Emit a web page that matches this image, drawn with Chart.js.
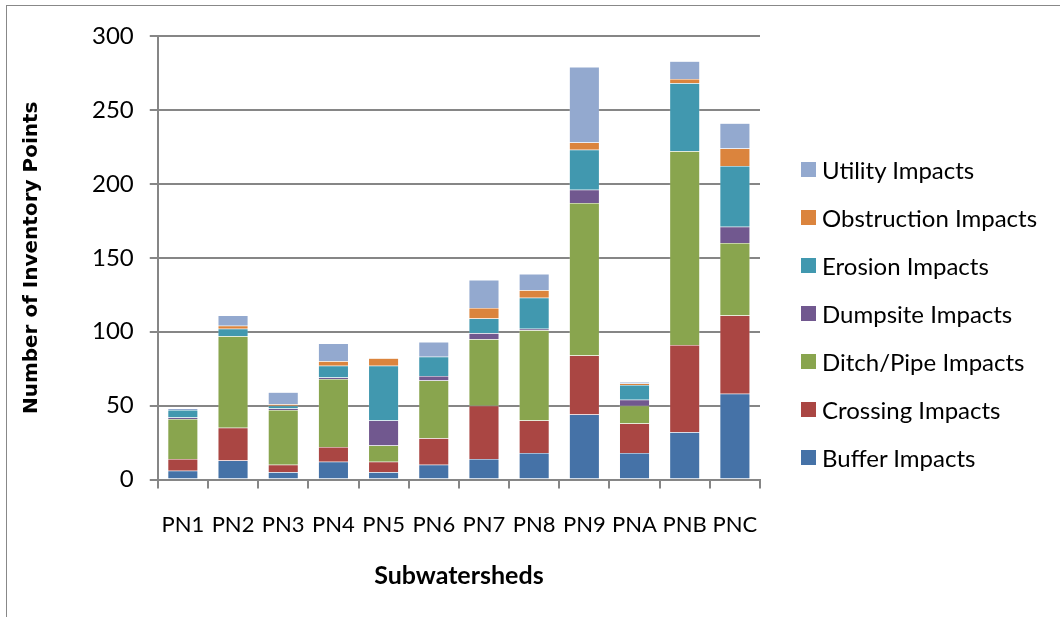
<!DOCTYPE html>
<html>
<head>
<meta charset="utf-8">
<script src="https://cdn.jsdelivr.net/npm/chart.js@4.4.1/dist/chart.umd.min.js"></script>
<style>
  html, body { margin: 0; padding: 0; background: #fff; }
  #frame {
    position: absolute; left: 6px; top: 5px; width: 1100px; height: 700px;
    border: 1px solid #888; box-sizing: border-box;
  }
  #wrap { position: absolute; left: 0; top: 0; width: 1060px; height: 617px; }
  #legend {
    position: absolute; left: 801px; top: 145px;
    font-family: Lato, 'Open Sans', sans-serif; font-size: 24px; color: #000;
  }
  .item { display: flex; align-items: center; height: 48px; white-space: nowrap; }
  .swatch { width: 15px; height: 15px; margin-right: 6px; flex-shrink: 0; }
</style>
</head>
<body>
<div id="frame"></div>
<div id="wrap"><canvas id="chart"></canvas></div>
<div id="legend"></div>
<script>
// Subwatershed inventory counts, stacked by impact type
const SUBWATERSHEDS = ["PN1", "PN2", "PN3", "PN4", "PN5", "PN6", "PN7", "PN8", "PN9", "PNA", "PNB", "PNC"];

const BUFFER      = [6, 13, 5, 12, 5, 10, 14, 18, 44, 18, 32, 58];
const CROSSING    = [8, 22, 5, 10, 7, 18, 36, 22, 40, 20, 59, 53];
const DITCH_PIPE  = [27, 62, 37, 46, 11, 39, 45, 61, 103, 12, 131, 49];
const DUMPSITE    = [1, 0, 1, 1, 17, 3, 4, 1, 9, 4, 0, 11];
const EROSION     = [5, 5, 2, 8, 37, 13, 10, 21, 27, 10, 46, 41];
const OBSTRUCTION = [0, 2, 1, 3, 5, 0, 7, 5, 5, 1, 3, 12];
const UTILITY     = [1, 7, 8, 12, 0, 10, 19, 11, 51, 1, 12, 17];

const Y_TICKS = [0, 50, 100, 150, 200, 250, 300];

const SERIES = [
  { label: "Buffer Impacts", data: BUFFER, color: "#4572a7" },
  { label: "Crossing Impacts", data: CROSSING, color: "#aa4643" },
  { label: "Ditch/Pipe Impacts", data: DITCH_PIPE, color: "#89a54e" },
  { label: "Dumpsite Impacts", data: DUMPSITE, color: "#71588f" },
  { label: "Erosion Impacts", data: EROSION, color: "#4198af" },
  { label: "Obstruction Impacts", data: OBSTRUCTION, color: "#db843d" },
  { label: "Utility Impacts", data: UTILITY, color: "#93a9cf" },
];

const FONT = "Lato, 'Open Sans', sans-serif";

// Legend on the right, top item = last series (like Excel)
document.getElementById("legend").innerHTML = SERIES.slice().reverse()
  .map((s) => `<div class="item"><span class="swatch" style="background:${s.color}"></span>${s.label}</div>`)
  .join("");

const datasets = SERIES.map((s) => ({
  label: s.label,
  data: s.data,
  backgroundColor: s.color,
  borderColor: "rgba(255,255,255,0.45)",
  borderWidth: 0.5,
  barPercentage: 0.6,
  categoryPercentage: 1,
}));

new Chart(document.getElementById("chart"), {
  type: "bar",
  data: { labels: SUBWATERSHEDS, datasets },
  options: {
    responsive: true,
    maintainAspectRatio: false,
    animation: false,
    layout: { padding: { left: 16, top: 36, right: 300, bottom: 23 } },
    plugins: {
      tooltip: { enabled: false },
      legend: { display: false },
    },
    scales: {
      x: {
        stacked: true,
        grid: {
          offset: true,
          drawOnChartArea: false,
          color: "#868686",
          lineWidth: 2,
          tickLength: 9,
        },
        border: { color: "#868686", width: 2 },
        ticks: { color: "#000", font: { family: FONT, size: 22 }, padding: 23, maxRotation: 0, autoSkip: false },
        title: {
          display: true,
          text: "Subwatersheds",
          color: "#000",
          font: { family: FONT, size: 25, weight: "bold" },
          padding: { top: 0, bottom: 3 },
        },
      },
      y: {
        stacked: true,
        min: 0,
        max: 300,
        afterBuildTicks: (axis) => { axis.ticks = Y_TICKS.map((v) => ({ value: v })); },
        grid: { color: "#868686", lineWidth: 2, tickLength: 8 },
        border: { color: "#868686", width: 2 },
        ticks: { color: "#000", font: { family: FONT, size: 24 }, padding: 16 },
        title: {
          display: true,
          text: "Number of Inventory Points",
          color: "#000",
          font: { family: "'DejaVu Sans', sans-serif", size: 20, weight: "bold" },
          padding: { top: 4, bottom: 32 },
        },
      },
    },
  },
});
</script>
</body>
</html>
